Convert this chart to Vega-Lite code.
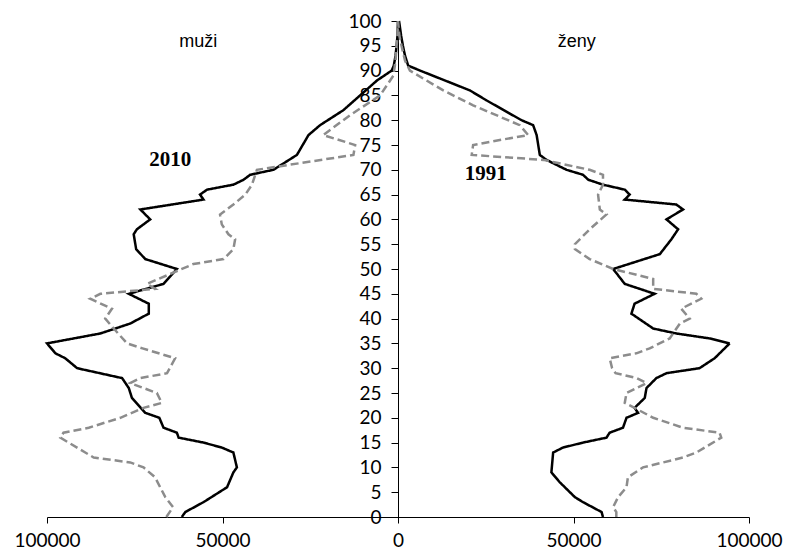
{
  "$schema": "https://vega.github.io/schema/vega-lite/v6.json",
  "autosize": {"type": "none"},
  "padding": {"left": 47, "top": 21, "right": 38, "bottom": 40},
  "width": 702,
  "height": 496,
  "background": "white",
  "config": {"view": {"stroke": null}},
  "datasets": {
    "pyramid": [
      {"sex":"muži","year":"2010","age":0,"pop":-61600},
      {"sex":"muži","year":"2010","age":1,"pop":-60600},
      {"sex":"muži","year":"2010","age":3,"pop":-55400},
      {"sex":"muži","year":"2010","age":6,"pop":-48700},
      {"sex":"muži","year":"2010","age":9,"pop":-46900},
      {"sex":"muži","year":"2010","age":10,"pop":-45900},
      {"sex":"muži","year":"2010","age":13,"pop":-46900},
      {"sex":"muži","year":"2010","age":14,"pop":-50200},
      {"sex":"muži","year":"2010","age":15,"pop":-55400},
      {"sex":"muži","year":"2010","age":16,"pop":-62500},
      {"sex":"muži","year":"2010","age":17,"pop":-63000},
      {"sex":"muži","year":"2010","age":18,"pop":-66800},
      {"sex":"muži","year":"2010","age":20,"pop":-68000},
      {"sex":"muži","year":"2010","age":21,"pop":-72000},
      {"sex":"muži","year":"2010","age":24,"pop":-75800},
      {"sex":"muži","year":"2010","age":26,"pop":-76700},
      {"sex":"muži","year":"2010","age":28,"pop":-78600},
      {"sex":"muži","year":"2010","age":30,"pop":-91400},
      {"sex":"muži","year":"2010","age":32,"pop":-94800},
      {"sex":"muži","year":"2010","age":33,"pop":-97600},
      {"sex":"muži","year":"2010","age":35,"pop":-100000},
      {"sex":"muži","year":"2010","age":37,"pop":-84800},
      {"sex":"muži","year":"2010","age":39,"pop":-76300},
      {"sex":"muži","year":"2010","age":41,"pop":-71000},
      {"sex":"muži","year":"2010","age":43,"pop":-71000},
      {"sex":"muži","year":"2010","age":45,"pop":-76700},
      {"sex":"muži","year":"2010","age":47,"pop":-66800},
      {"sex":"muži","year":"2010","age":50,"pop":-63000},
      {"sex":"muži","year":"2010","age":52,"pop":-72000},
      {"sex":"muži","year":"2010","age":54,"pop":-74600},
      {"sex":"muži","year":"2010","age":57,"pop":-75300},
      {"sex":"muži","year":"2010","age":58,"pop":-74400},
      {"sex":"muži","year":"2010","age":60,"pop":-70600},
      {"sex":"muži","year":"2010","age":62,"pop":-73400},
      {"sex":"muži","year":"2010","age":64,"pop":-55400},
      {"sex":"muži","year":"2010","age":65,"pop":-56400},
      {"sex":"muži","year":"2010","age":66,"pop":-54400},
      {"sex":"muži","year":"2010","age":67,"pop":-46900},
      {"sex":"muži","year":"2010","age":68,"pop":-44000},
      {"sex":"muži","year":"2010","age":69,"pop":-42100},
      {"sex":"muži","year":"2010","age":70,"pop":-35500},
      {"sex":"muži","year":"2010","age":73,"pop":-28800},
      {"sex":"muži","year":"2010","age":77,"pop":-25500},
      {"sex":"muži","year":"2010","age":79,"pop":-22200},
      {"sex":"muži","year":"2010","age":82,"pop":-15600},
      {"sex":"muži","year":"2010","age":85,"pop":-10800},
      {"sex":"muži","year":"2010","age":88,"pop":-6000},
      {"sex":"muži","year":"2010","age":90,"pop":-1800},
      {"sex":"muži","year":"2010","age":91,"pop":-1200},
      {"sex":"muži","year":"2010","age":93,"pop":-700},
      {"sex":"muži","year":"2010","age":95,"pop":-400},
      {"sex":"muži","year":"2010","age":97,"pop":-150},
      {"sex":"muži","year":"2010","age":100,"pop":0},

      {"sex":"muži","year":"1991","age":0,"pop":-66000},
      {"sex":"muži","year":"1991","age":2,"pop":-64100},
      {"sex":"muži","year":"1991","age":4,"pop":-66300},
      {"sex":"muži","year":"1991","age":8,"pop":-69200},
      {"sex":"muži","year":"1991","age":10,"pop":-72500},
      {"sex":"muži","year":"1991","age":11,"pop":-76300},
      {"sex":"muži","year":"1991","age":12,"pop":-86700},
      {"sex":"muži","year":"1991","age":13,"pop":-89100},
      {"sex":"muži","year":"1991","age":16,"pop":-96200},
      {"sex":"muži","year":"1991","age":17,"pop":-95300},
      {"sex":"muži","year":"1991","age":18,"pop":-88100},
      {"sex":"muži","year":"1991","age":20,"pop":-79100},
      {"sex":"muži","year":"1991","age":22,"pop":-72500},
      {"sex":"muži","year":"1991","age":23,"pop":-67300},
      {"sex":"muži","year":"1991","age":25,"pop":-68700},
      {"sex":"muži","year":"1991","age":27,"pop":-76300},
      {"sex":"muži","year":"1991","age":28,"pop":-73400},
      {"sex":"muži","year":"1991","age":29,"pop":-65800},
      {"sex":"muži","year":"1991","age":32,"pop":-63500},
      {"sex":"muži","year":"1991","age":34,"pop":-72800},
      {"sex":"muži","year":"1991","age":35,"pop":-77200},
      {"sex":"muži","year":"1991","age":38,"pop":-81000},
      {"sex":"muži","year":"1991","age":40,"pop":-83400},
      {"sex":"muži","year":"1991","age":42,"pop":-81500},
      {"sex":"muži","year":"1991","age":44,"pop":-87700},
      {"sex":"muži","year":"1991","age":45,"pop":-84800},
      {"sex":"muži","year":"1991","age":46,"pop":-69200},
      {"sex":"muži","year":"1991","age":47,"pop":-71500},
      {"sex":"muži","year":"1991","age":49,"pop":-64900},
      {"sex":"muži","year":"1991","age":51,"pop":-58300},
      {"sex":"muži","year":"1991","age":52,"pop":-49700},
      {"sex":"muži","year":"1991","age":54,"pop":-46900},
      {"sex":"muži","year":"1991","age":56,"pop":-46400},
      {"sex":"muži","year":"1991","age":57,"pop":-48300},
      {"sex":"muži","year":"1991","age":59,"pop":-50200},
      {"sex":"muži","year":"1991","age":61,"pop":-50700},
      {"sex":"muži","year":"1991","age":63,"pop":-46900},
      {"sex":"muži","year":"1991","age":65,"pop":-43500},
      {"sex":"muži","year":"1991","age":67,"pop":-41600},
      {"sex":"muži","year":"1991","age":70,"pop":-40200},
      {"sex":"muži","year":"1991","age":73,"pop":-12700},
      {"sex":"muži","year":"1991","age":75,"pop":-12200},
      {"sex":"muži","year":"1991","age":77,"pop":-21300},
      {"sex":"muži","year":"1991","age":81,"pop":-13700},
      {"sex":"muži","year":"1991","age":85,"pop":-5100},
      {"sex":"muži","year":"1991","age":89,"pop":-1300},
      {"sex":"muži","year":"1991","age":92,"pop":-700},
      {"sex":"muži","year":"1991","age":95,"pop":-400},
      {"sex":"muži","year":"1991","age":97,"pop":-150},
      {"sex":"muži","year":"1991","age":100,"pop":0},

      {"sex":"ženy","year":"2010","age":0,"pop":58400},
      {"sex":"ženy","year":"2010","age":1,"pop":58000},
      {"sex":"ženy","year":"2010","age":3,"pop":52700},
      {"sex":"ženy","year":"2010","age":4,"pop":50400},
      {"sex":"ženy","year":"2010","age":7,"pop":46100},
      {"sex":"ženy","year":"2010","age":9,"pop":43700},
      {"sex":"ženy","year":"2010","age":13,"pop":44200},
      {"sex":"ženy","year":"2010","age":14,"pop":47000},
      {"sex":"ženy","year":"2010","age":15,"pop":52700},
      {"sex":"ženy","year":"2010","age":16,"pop":59400},
      {"sex":"ženy","year":"2010","age":17,"pop":60300},
      {"sex":"ženy","year":"2010","age":18,"pop":64100},
      {"sex":"ženy","year":"2010","age":20,"pop":65100},
      {"sex":"ženy","year":"2010","age":21,"pop":68400},
      {"sex":"ženy","year":"2010","age":22,"pop":67400},
      {"sex":"ženy","year":"2010","age":24,"pop":70300},
      {"sex":"ženy","year":"2010","age":26,"pop":70800},
      {"sex":"ženy","year":"2010","age":28,"pop":73600},
      {"sex":"ženy","year":"2010","age":29,"pop":76500},
      {"sex":"ženy","year":"2010","age":30,"pop":85900},
      {"sex":"ženy","year":"2010","age":32,"pop":90200},
      {"sex":"ženy","year":"2010","age":35,"pop":94500},
      {"sex":"ženy","year":"2010","age":36,"pop":88800},
      {"sex":"ženy","year":"2010","age":37,"pop":79300},
      {"sex":"ženy","year":"2010","age":38,"pop":72700},
      {"sex":"ženy","year":"2010","age":41,"pop":66500},
      {"sex":"ženy","year":"2010","age":43,"pop":67400},
      {"sex":"ženy","year":"2010","age":45,"pop":73100},
      {"sex":"ženy","year":"2010","age":47,"pop":64600},
      {"sex":"ženy","year":"2010","age":50,"pop":61300},
      {"sex":"ženy","year":"2010","age":53,"pop":74600},
      {"sex":"ženy","year":"2010","age":56,"pop":77900},
      {"sex":"ženy","year":"2010","age":58,"pop":79800},
      {"sex":"ženy","year":"2010","age":60,"pop":76500},
      {"sex":"ženy","year":"2010","age":62,"pop":81200},
      {"sex":"ženy","year":"2010","age":63,"pop":79300},
      {"sex":"ženy","year":"2010","age":64,"pop":64600},
      {"sex":"ženy","year":"2010","age":65,"pop":66000},
      {"sex":"ženy","year":"2010","age":66,"pop":64600},
      {"sex":"ženy","year":"2010","age":67,"pop":58400},
      {"sex":"ženy","year":"2010","age":68,"pop":54200},
      {"sex":"ženy","year":"2010","age":69,"pop":52700},
      {"sex":"ženy","year":"2010","age":70,"pop":48000},
      {"sex":"ženy","year":"2010","age":72,"pop":42300},
      {"sex":"ženy","year":"2010","age":73,"pop":40400},
      {"sex":"ženy","year":"2010","age":77,"pop":39500},
      {"sex":"ženy","year":"2010","age":79,"pop":38500},
      {"sex":"ženy","year":"2010","age":80,"pop":35200},
      {"sex":"ženy","year":"2010","age":84,"pop":25200},
      {"sex":"ženy","year":"2010","age":86,"pop":20500},
      {"sex":"ženy","year":"2010","age":90,"pop":6300},
      {"sex":"ženy","year":"2010","age":91,"pop":2900},
      {"sex":"ženy","year":"2010","age":93,"pop":2000},
      {"sex":"ženy","year":"2010","age":95,"pop":1400},
      {"sex":"ženy","year":"2010","age":97,"pop":900},
      {"sex":"ženy","year":"2010","age":100,"pop":300},

      {"sex":"ženy","year":"1991","age":0,"pop":62200},
      {"sex":"ženy","year":"1991","age":1,"pop":62200},
      {"sex":"ženy","year":"1991","age":2,"pop":61300},
      {"sex":"ženy","year":"1991","age":4,"pop":62700},
      {"sex":"ženy","year":"1991","age":6,"pop":65100},
      {"sex":"ženy","year":"1991","age":8,"pop":65500},
      {"sex":"ženy","year":"1991","age":10,"pop":69800},
      {"sex":"ženy","year":"1991","age":11,"pop":75500},
      {"sex":"ženy","year":"1991","age":12,"pop":81200},
      {"sex":"ženy","year":"1991","age":13,"pop":85000},
      {"sex":"ženy","year":"1991","age":16,"pop":92100},
      {"sex":"ženy","year":"1991","age":17,"pop":91600},
      {"sex":"ženy","year":"1991","age":18,"pop":81200},
      {"sex":"ženy","year":"1991","age":20,"pop":72700},
      {"sex":"ženy","year":"1991","age":22,"pop":67400},
      {"sex":"ženy","year":"1991","age":23,"pop":64600},
      {"sex":"ženy","year":"1991","age":25,"pop":65100},
      {"sex":"ženy","year":"1991","age":27,"pop":70800},
      {"sex":"ženy","year":"1991","age":28,"pop":68000},
      {"sex":"ženy","year":"1991","age":29,"pop":62000},
      {"sex":"ženy","year":"1991","age":30,"pop":61000},
      {"sex":"ženy","year":"1991","age":32,"pop":60300},
      {"sex":"ženy","year":"1991","age":33,"pop":67900},
      {"sex":"ženy","year":"1991","age":34,"pop":71700},
      {"sex":"ženy","year":"1991","age":36,"pop":77400},
      {"sex":"ženy","year":"1991","age":39,"pop":80300},
      {"sex":"ženy","year":"1991","age":40,"pop":83100},
      {"sex":"ženy","year":"1991","age":42,"pop":80700},
      {"sex":"ženy","year":"1991","age":44,"pop":86400},
      {"sex":"ženy","year":"1991","age":45,"pop":85000},
      {"sex":"ženy","year":"1991","age":46,"pop":72700},
      {"sex":"ženy","year":"1991","age":48,"pop":72700},
      {"sex":"ženy","year":"1991","age":50,"pop":61300},
      {"sex":"ženy","year":"1991","age":52,"pop":54600},
      {"sex":"ženy","year":"1991","age":54,"pop":50400},
      {"sex":"ženy","year":"1991","age":55,"pop":50400},
      {"sex":"ženy","year":"1991","age":58,"pop":54600},
      {"sex":"ženy","year":"1991","age":61,"pop":59400},
      {"sex":"ženy","year":"1991","age":62,"pop":57500},
      {"sex":"ženy","year":"1991","age":65,"pop":57000},
      {"sex":"ženy","year":"1991","age":67,"pop":58400},
      {"sex":"ženy","year":"1991","age":69,"pop":58400},
      {"sex":"ženy","year":"1991","age":70,"pop":54600},
      {"sex":"ženy","year":"1991","age":72,"pop":41400},
      {"sex":"ženy","year":"1991","age":73,"pop":21000},
      {"sex":"ženy","year":"1991","age":75,"pop":21400},
      {"sex":"ženy","year":"1991","age":76,"pop":29000},
      {"sex":"ženy","year":"1991","age":77,"pop":37100},
      {"sex":"ženy","year":"1991","age":79,"pop":34700},
      {"sex":"ženy","year":"1991","age":83,"pop":21400},
      {"sex":"ženy","year":"1991","age":86,"pop":12900},
      {"sex":"ženy","year":"1991","age":90,"pop":3400},
      {"sex":"ženy","year":"1991","age":92,"pop":2000},
      {"sex":"ženy","year":"1991","age":95,"pop":1000},
      {"sex":"ženy","year":"1991","age":97,"pop":400},
      {"sex":"ženy","year":"1991","age":100,"pop":0}
    ],
    "sexLabels": [
      {"label":"muži","pop":-56900,"age":95.8},
      {"label":"ženy","pop":50900,"age":95.8}
    ],
    "yearLabels": [
      {"label":"2010","pop":-64900,"age":72},
      {"label":"1991","pop":25000,"age":69.2}
    ]
  },
  "encoding": {
    "x": {
      "field": "pop", "type": "quantitative",
      "scale": {"domain": [-100000, 100000], "nice": false},
      "axis": {
        "title": null, "grid": false,
        "values": [-100000, -50000, 0, 50000, 100000],
        "labelExpr": "format(abs(datum.value), 'd')",
        "labelFlush": false,
        "labelOverlap": false,
        "labelFont": "Lato", "labelFontSize": 19, "labelColor": "#000",
        "labelPadding": 8,
        "tickSize": 6, "tickColor": "#000", "domainColor": "#000",
        "domainWidth": 1, "tickWidth": 1
      }
    },
    "y": {
      "field": "age", "type": "quantitative",
      "scale": {"domain": [0, 100], "nice": false},
      "axis": {
        "title": null, "grid": false,
        "values": [0,5,10,15,20,25,30,35,40,45,50,55,60,65,70,75,80,85,90,95,100],
        "offset": -351,
        "labelFlush": false,
        "labelOverlap": false,
        "labelFont": "Lato", "labelFontSize": 19, "labelColor": "#000",
        "labelPadding": 10,
        "tickSize": 7, "tickColor": "#000", "domainColor": "#000",
        "domainWidth": 1, "tickWidth": 1
      }
    }
  },
  "layer": [
    {
      "data": {"name": "pyramid"},
      "mark": {"type": "line", "strokeWidth": 2.5},
      "encoding": {
        "order": {"field": "age", "type": "quantitative"},
        "detail": {"field": "sex", "type": "nominal"},
        "color": {
          "field": "year", "type": "nominal",
          "scale": {"domain": ["2010", "1991"], "range": ["#000000", "#8c8c8c"]},
          "legend": null
        },
        "strokeDash": {
          "field": "year", "type": "nominal",
          "scale": {"domain": ["2010", "1991"], "range": [[1, 0], [8, 4]]},
          "legend": null
        }
      }
    },
    {
      "data": {"name": "sexLabels"},
      "mark": {"type": "text", "font": "Liberation Sans", "fontSize": 18, "color": "#000"},
      "encoding": {
        "text": {"field": "label"}
      }
    },
    {
      "data": {"name": "yearLabels"},
      "mark": {"type": "text", "font": "Liberation Serif", "fontWeight": "bold", "fontSize": 21, "color": "#000"},
      "encoding": {
        "text": {"field": "label"}
      }
    }
  ]
}
